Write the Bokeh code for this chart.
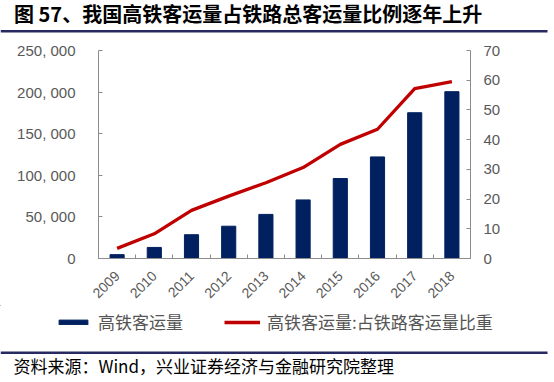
import numpy as np
from bokeh.plotting import figure
from bokeh.layouts import column, row
from bokeh.models import (ColumnDataSource, Range1d, LinearAxis, FixedTicker,
                          Legend, LegendItem)
from bokeh.core.properties import value
from bokeh.embed import file_html
from bokeh.resources import INLINE

# ---- data ----
years = ["2009", "2010", "2011", "2012", "2013", "2014", "2015", "2016", "2017", "2018"]
hsr_passengers = [4650, 13300, 28600, 38800, 53000, 70400, 96100, 122100, 175200, 200500]
hsr_share = [3.4, 8.3, 16.2, 21.0, 25.5, 30.6, 38.4, 43.5, 57.2, 59.5]
left_ticks = [0, 50000, 100000, 150000, 200000, 250000]
left_tick_labels = ["0", "50, 000", "100, 000", "150, 000", "200, 000", "250, 000"]
right_ticks = [0, 10, 20, 30, 40, 50, 60, 70]

title_text = "图 57、我国高铁客运量占铁路总客运量比例逐年上升"
source_text = "资料来源：Wind，兴业证券经济与金融研究院整理"
bar_name = "高铁客运量"
line_name = "高铁客运量:占铁路客运量比重"

BAR_COLOR = "#002060"
LINE_COLOR = "#C00000"
AXIS_COLOR = "#8c8c8c"
TICK_TEXT = "#595959"
RULE_COLOR = "#262a60"
CJK = "Noto Sans CJK SC"
LATIN = "Liberation Sans"
W = 554


def blank(h, y0, y1):
    f = figure(width=W, height=h, output_backend="svg", toolbar_location=None,
               x_range=Range1d(0, W), y_range=Range1d(y1, y0),
               x_axis_type=None, y_axis_type=None, min_border=0)
    f.outline_line_color = None
    f.background_fill_color = "white"
    f.border_fill_color = "white"
    return f


# ---- top: title + rule ----
top = blank(40, 0, 40)
top.text(x=[13.5], y=[12.5], text=[title_text], text_font=value(CJK),
         text_font_style="bold", text_font_size="20px", text_color="black",
         text_baseline="middle", text_align="left")
top.quad(left=[0], right=[547], top=[29.5], bottom=[32], fill_color=RULE_COLOR, line_color=None)

# ---- main chart ----
n = len(years)
xpos = np.arange(n) + 0.5
src = ColumnDataSource(dict(x=xpos, v=hsr_passengers, r=hsr_share, year=years))

p = figure(width=W, height=265, output_backend="svg", toolbar_location=None,
           x_range=Range1d(0, n), y_range=Range1d(0, 250000),
           min_border_left=98, min_border_right=84, min_border_top=10, min_border_bottom=47)
p.outline_line_color = None
p.grid.grid_line_color = None
p.background_fill_color = "white"
p.border_fill_color = "white"
p.extra_y_ranges = {"pct": Range1d(0, 70)}

bars = p.vbar(x="x", top="v", width=0.38, source=src, color=BAR_COLOR)
line = p.line(x="x", y="r", source=src, y_range_name="pct", line_color=LINE_COLOR, line_width=3.3)

xa = p.xaxis[0]
xa.ticker = FixedTicker(ticks=list(xpos), minor_ticks=list(range(n + 1)))
xa.major_label_overrides = {float(x): y for x, y in zip(xpos, years)}
xa.major_tick_line_color = None
xa.minor_tick_in = 4
xa.minor_tick_out = 0
xa.minor_tick_line_color = AXIS_COLOR
xa.axis_line_color = AXIS_COLOR
xa.major_label_orientation = np.pi / 4
xa.major_label_text_font = LATIN
xa.major_label_text_font_size = "14px"
xa.major_label_text_color = TICK_TEXT
xa.major_label_standoff = 9

ya = p.yaxis[0]
ya.ticker = FixedTicker(ticks=left_ticks)
ya.major_label_overrides = {t: s for t, s in zip(left_ticks, left_tick_labels)}
ya.major_tick_in = 4
ya.major_tick_out = 0
ya.minor_tick_line_color = None
ya.major_tick_line_color = AXIS_COLOR
ya.axis_line_color = AXIS_COLOR
ya.major_label_text_font = LATIN
ya.major_label_text_font_size = "15px"
ya.major_label_text_color = TICK_TEXT
ya.major_label_standoff = 23

ra = LinearAxis(y_range_name="pct", ticker=FixedTicker(ticks=right_ticks))
ra.major_tick_in = 4
ra.major_tick_out = 0
ra.minor_tick_line_color = None
ra.major_tick_line_color = AXIS_COLOR
ra.axis_line_color = AXIS_COLOR
ra.major_label_text_font = LATIN
ra.major_label_text_font_size = "15px"
ra.major_label_text_color = TICK_TEXT
ra.major_label_standoff = 13
p.add_layout(ra, "right")

# ---- bottom: legend + rule + source ----
bot = blank(77, 305, 382)
lg_src = ColumnDataSource(dict(x=[-1000], top=[0], y=[-1000]))
lg_bar = bot.vbar(x="x", top="top", width=1, color=BAR_COLOR, source=lg_src)
lg_line = bot.line(x="x", y="y", line_color=LINE_COLOR, line_width=3.3, source=lg_src)
legend = Legend(items=[LegendItem(label=bar_name, renderers=[lg_bar]),
                       LegendItem(label=line_name, renderers=[lg_line])],
                location=(55, 48), orientation="horizontal",
                glyph_width=36, glyph_height=6, label_standoff=7, spacing=41,
                padding=0, margin=0, border_line_alpha=0, background_fill_alpha=0,
                label_text_font=CJK, label_text_font_size="17px", label_text_color="#555555",
                label_height=6, label_text_baseline="middle")
bot.add_layout(legend, "center")
bot.quad(left=[0], right=[547], top=[351], bottom=[353.5], fill_color=RULE_COLOR, line_color=None)
bot.text(x=[13], y=[365], text=[source_text], text_font=value(CJK), text_font_size="17px",
         text_color="black", text_baseline="middle", text_align="left")

layout = column(row(top), row(p), row(bot), spacing=0)
open("out.html", "w").write(file_html(layout, INLINE))
